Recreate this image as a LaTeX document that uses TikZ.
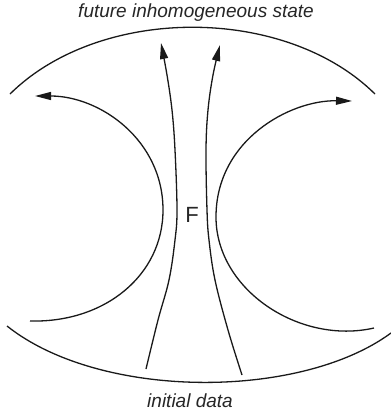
\documentclass[tikz,border=0pt]{standalone}
\usepackage{fontspec}
\setmainfont{Liberation Sans}
\usetikzlibrary{arrows.meta}
\begin{document}
\begin{tikzpicture}[x=1pt,y=-1pt,
  curve/.style={line width=1.3pt, draw=black!90},
  flow/.style={curve, -{Triangle[length=16pt,width=8pt]}},
  lbl/.style={font=\fontsize{19}{22}\selectfont\itshape, text=black!85, inner sep=0pt}]
\useasboundingbox (0,0) rectangle (391,416);
% boundaries
\draw[curve] (10,94) .. controls (100,5) and (285,5) .. (375,94);
\draw[curve] (7,326) .. controls (100,400) and (300,400) .. (391,333);
% left C arrow
\draw[flow] (30,321) .. controls (105,323) and (163,275) .. (163,210)
            .. controls (163,140) and (100,96) .. (35,96);
% right C arrow
\draw[flow] (374,328) .. controls (300,345) and (216,290) .. (216,217)
            .. controls (216,140) and (290,100) .. (352,101);
% middle flows
\draw[flow] plot[smooth, tension=0.6] coordinates {(146,369) (158,320) (169,280) (175,240) (177,210) (175,150) (172,110) (167,75) (161,43)};
\draw[flow] plot[smooth, tension=0.6] coordinates {(242,375) (228,330) (215,280) (209,240) (207,210) (206,150) (208,110) (213,75) (220,45)};
% labels
\node[lbl] (top) at (196,13) {future inhomogeneous state};
\node[lbl] (bot) at (190,401) {initial data};
\node[font=\fontsize{22}{26}\selectfont, text=black!85, inner sep=0pt] (F) at (192,215) {F};
\end{tikzpicture}
\end{document}
